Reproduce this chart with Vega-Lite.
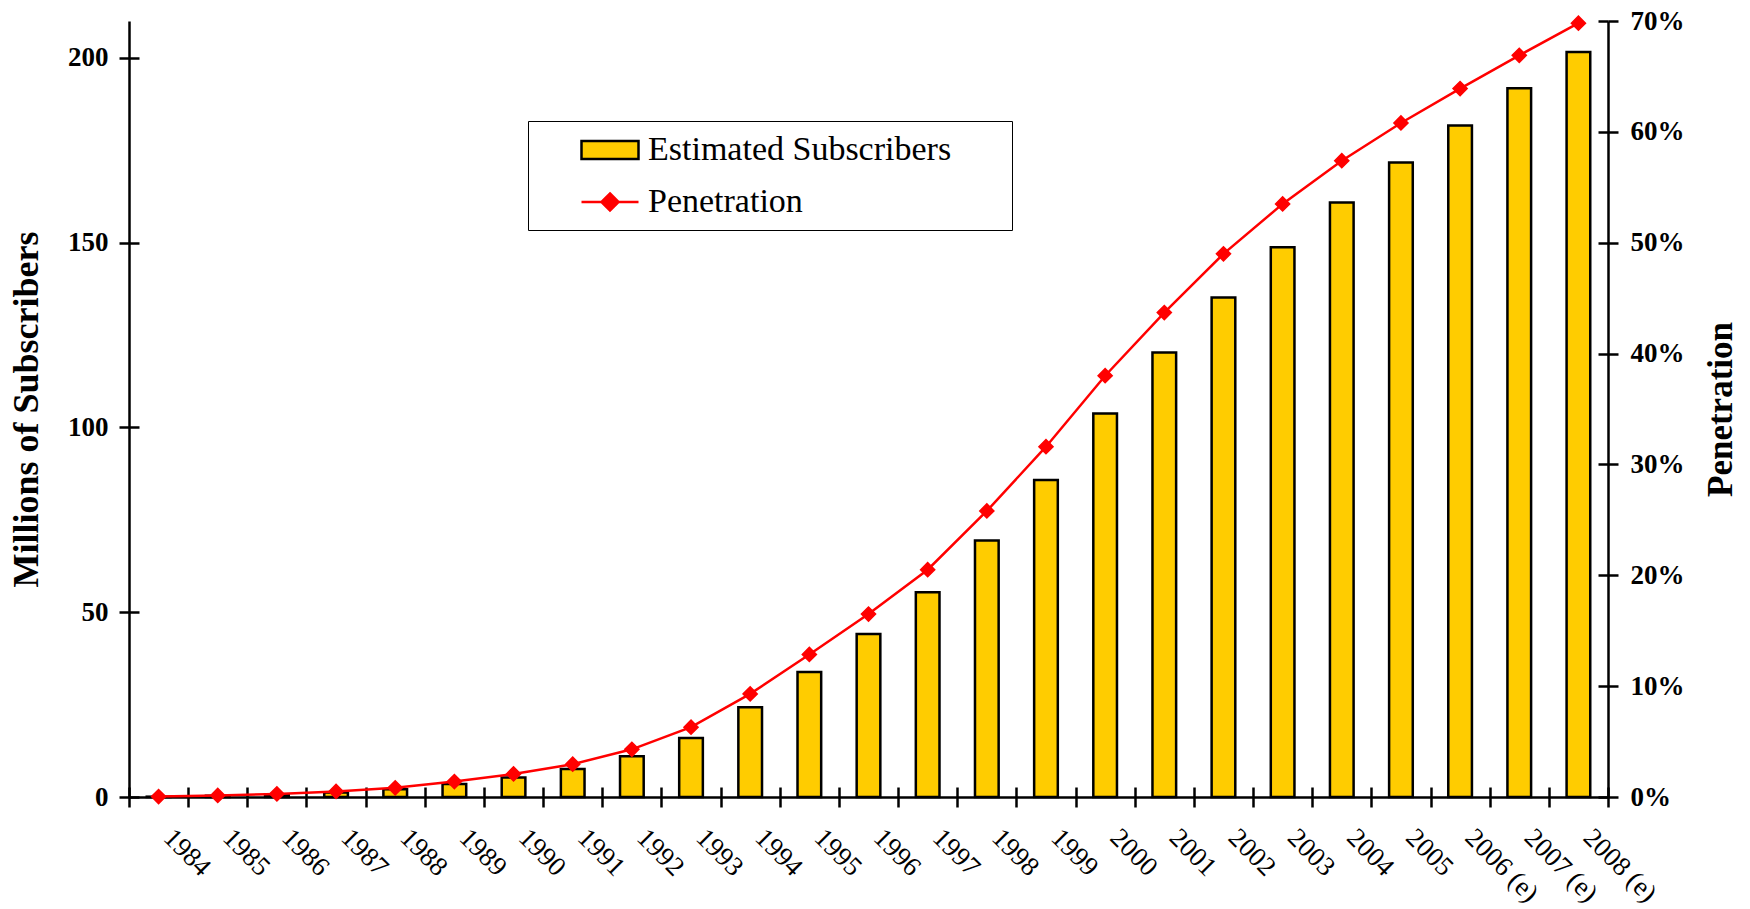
{
  "$schema": "https://vega.github.io/schema/vega-lite/v6.json",
  "width": 1479,
  "height": 776,
  "autosize": {"type": "none"},
  "padding": {"left": 129, "top": 21, "right": 142, "bottom": 112},
  "background": "white",
  "config": {
    "view": {"stroke": null},
    "font": "'Liberation Serif', 'Times New Roman', Times, serif",
    "axis": {
      "domainColor": "black",
      "domainWidth": 2.5,
      "tickColor": "black",
      "tickWidth": 2.5,
      "tickSize": 10,
      "labelColor": "black",
      "titleColor": "black",
      "labelFont": "'Liberation Serif', 'Times New Roman', Times, serif",
      "titleFont": "'Liberation Serif', 'Times New Roman', Times, serif",
      "gridColor": "black",
      "gridWidth": 2.5,
      "gridOpacity": 1
    }
  },
  "data": {
    "values": [
      {"year": "1984", "subscribers": 0.09, "penetration": 0.0004},
      {"year": "1985", "subscribers": 0.34, "penetration": 0.0014},
      {"year": "1986", "subscribers": 0.68, "penetration": 0.0028},
      {"year": "1987", "subscribers": 1.23, "penetration": 0.005},
      {"year": "1988", "subscribers": 2.07, "penetration": 0.0083},
      {"year": "1989", "subscribers": 3.51, "penetration": 0.0139},
      {"year": "1990", "subscribers": 5.28, "penetration": 0.0208},
      {"year": "1991", "subscribers": 7.56, "penetration": 0.0296},
      {"year": "1992", "subscribers": 11.03, "penetration": 0.043},
      {"year": "1993", "subscribers": 16.0, "penetration": 0.063},
      {"year": "1994", "subscribers": 24.3, "penetration": 0.093},
      {"year": "1995", "subscribers": 33.8, "penetration": 0.1286},
      {"year": "1996", "subscribers": 44.1, "penetration": 0.165},
      {"year": "1997", "subscribers": 55.4, "penetration": 0.205},
      {"year": "1998", "subscribers": 69.4, "penetration": 0.258},
      {"year": "1999", "subscribers": 85.8, "penetration": 0.316},
      {"year": "2000", "subscribers": 103.8, "penetration": 0.38},
      {"year": "2001", "subscribers": 120.3, "penetration": 0.437},
      {"year": "2002", "subscribers": 135.2, "penetration": 0.49},
      {"year": "2003", "subscribers": 148.8, "penetration": 0.535},
      {"year": "2004", "subscribers": 160.9, "penetration": 0.574},
      {"year": "2005", "subscribers": 171.7, "penetration": 0.608},
      {"year": "2006 (e)", "subscribers": 181.7, "penetration": 0.639},
      {"year": "2007 (e)", "subscribers": 191.8, "penetration": 0.669},
      {"year": "2008 (e)", "subscribers": 201.6, "penetration": 0.698}
    ]
  },
  "layer": [
    {
      "mark": {"type": "bar", "stroke": "black", "strokeWidth": 2.5, "width": {"band": 0.4}},
      "encoding": {
        "x": {
          "field": "year",
          "type": "nominal",
          "sort": null,
          "scale": {"paddingInner": 0, "paddingOuter": 0},
          "axis": {
            "title": null,
            "tickBand": "extent",
            "labelAngle": 45,
            "labelAlign": "left",
            "labelBaseline": "top",
            "labelFontSize": 27,
            "labelFontWeight": "normal",
            "labelPadding": 17,
            "labelOffset": 18,
            "labelOverlap": false,
            "labelBound": false,
            "grid": true,
            "gridDash": [10, 766],
            "gridDashOffset": 10
          }
        },
        "y": {
          "field": "subscribers",
          "type": "quantitative",
          "scale": {"domain": [0, 210], "nice": false},
          "axis": {
            "title": "Millions of Subscribers",
            "values": [0, 50, 100, 150, 200],
            "labelFontSize": 27,
            "labelFontWeight": "bold",
            "labelPadding": 11,
            "titleFontSize": 36,
            "titleFontWeight": "bold",
            "titlePadding": 22,
            "grid": true,
            "gridDash": [10, 3000]
          }
        },
        "fill": {
          "datum": "Estimated Subscribers",
          "scale": {"domain": ["Estimated Subscribers"], "range": ["#FFCC00"]},
          "legend": {
            "orient": "none",
            "legendX": 399,
            "legendY": 100,
            "title": "\u200b",
            "titleOrient": "bottom",
            "titleFontSize": 40,
            "titlePadding": 11,
            "padding": 9,
            "symbolType": "M-1,-0.32H1V0.32H-1Z",
            "symbolSize": 3249,
            "symbolOffset": 43,
            "symbolStrokeColor": "black",
            "symbolStrokeWidth": 2.5,
            "symbolOpacity": 1,
            "labelOffset": 8,
            "labelFont": "'Liberation Serif', 'Times New Roman', Times, serif",
            "labelFontSize": 34,
            "labelColor": "black",
            "labelLimit": 700,
            "clipHeight": 40,
            "strokeColor": "black",
            "labelExpr": "datum.label + '\u2007\u2007\u2007\u200b'"
          }
        }
      }
    },
    {
      "encoding": {
        "x": {"field": "year", "type": "nominal", "sort": null},
        "y": {
          "field": "penetration",
          "type": "quantitative",
          "scale": {"domain": [0, 0.7], "nice": false},
          "axis": {
            "orient": "right",
            "title": "Penetration",
            "format": ".0%",
            "values": [0, 0.1, 0.2, 0.3, 0.4, 0.5, 0.6, 0.7],
            "labelFontSize": 27,
            "labelFontWeight": "bold",
            "labelPadding": 12,
            "titleAngle": 270,
            "titleBaseline": "top",
            "titleFontSize": 35,
            "titleFontWeight": "bold",
            "titlePadding": 19,
            "grid": true,
            "gridDash": [10, 3000]
          }
        },
        "stroke": {
          "datum": "Penetration",
          "scale": {"domain": ["Penetration"], "range": ["#FF0000"]},
          "legend": {
            "orient": "none",
            "legendX": 399,
            "legendY": 152,
            "title": null,
            "padding": 9,
            "symbolType": "M-1,0H1M0,-0.3L0.3,0L0,0.3L-0.3,0Z",
            "symbolSize": 3249,
            "symbolOffset": 43,
            "symbolFillColor": "#FF0000",
            "symbolStrokeWidth": 2.5,
            "symbolOpacity": 1,
            "labelOffset": 8,
            "labelFont": "'Liberation Serif', 'Times New Roman', Times, serif",
            "labelFontSize": 34,
            "labelColor": "black",
            "labelLimit": 700,
            "clipHeight": 40
          }
        }
      },
      "layer": [
        {"mark": {"type": "line", "strokeWidth": 2.5}},
        {"mark": {"type": "point", "shape": "diamond", "size": 200, "filled": true, "fill": "#FF0000", "opacity": 1, "strokeWidth": 1.5}}
      ]
    }
  ],
  "resolve": {"scale": {"y": "independent"}}
}
